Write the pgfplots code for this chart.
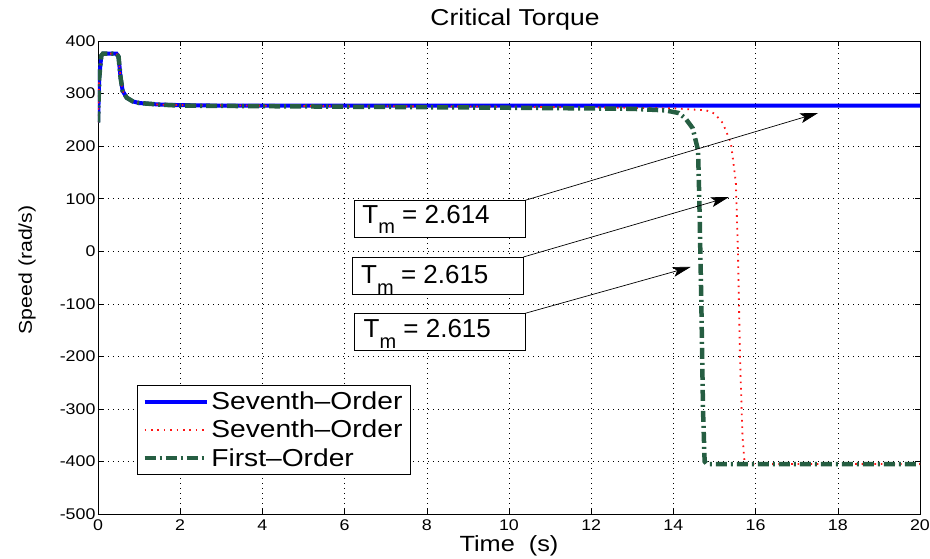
\documentclass[border=0pt]{standalone}
\usepackage{fontspec}
\setmainfont[FakeStretch=1.15]{Liberation Sans}
\newfontfamily\annfont{Liberation Sans}
\usepackage{pgfplots}
\pgfplotsset{compat=1.18}
\usetikzlibrary{arrows.meta}
\definecolor{mblue}{RGB}{0,0,255}
\definecolor{mred}{RGB}{255,20,20}
\definecolor{mgreen}{RGB}{38,94,66}
\newcommand{\tm}[1]{{\annfont\fontsize{26}{26}\selectfont T\raisebox{-10.5pt}{\fontsize{20}{20}\selectfont m} = #1}}
\begin{document}
\begin{tikzpicture}
\begin{axis}[
 at={(0,0)}, anchor=south west,
 scale only axis, width=822pt, height=473pt,
 xmin=0, xmax=20, ymin=-500, ymax=400,
 xtick={0,2,...,20}, ytick={-500,-400,...,400},
 /pgf/number format/assume math mode=true,
 ticklabel style={font=\fontsize{15.5}{15.5}\selectfont},
 yticklabel style={xshift=1pt},
 xticklabel style={yshift=-2pt},
 tick align=inside, major tick length=5pt,
 tick style={black, line width=0.5pt},
 grid=major,
 major grid style={black, line width=0.5pt, dash pattern=on 0.6pt off 4.4pt},
 axis line style={black, line width=0.6pt},
 title={Critical Torque},
 title style={font=\fontsize{23}{23}\selectfont, at={(axis description cs:0.5,1)}, anchor=base, yshift=10pt, xshift=6pt},
 xlabel={Time\ \ (s)},
 xlabel style={font=\fontsize{22}{22}\selectfont, at={(axis description cs:0.5,0)}, anchor=base, yshift=-38pt},
 ylabel={Speed (rad/s)},
 ylabel style={font=\fontsize{18.5}{18.5}\selectfont, at={(axis description cs:-0.0803,0.516)}, anchor=base},
 legend style={at={(axis description cs:0.0474,0.2727)}, anchor=north west,
   draw=black, line width=0.8pt, font=\fontsize{24.5}{24.5}\selectfont,
   inner xsep=5pt, inner ysep=4pt, row sep=4pt,
   nodes={inner sep=2.5pt}},
 legend cell align=left,
 legend image code/.code={\draw[#1] (0pt,0pt) -- (62pt,0pt);},
]
\addplot[mblue, line width=4pt] coordinates {
(0,245) (0.03,330) (0.08,372) (0.12,376) (0.45,376) (0.5,370) (0.55,330) (0.6,305) (0.7,292) (0.85,285) (1,282) (1.5,279) (2,278) (3,277) (20,277)};
\addlegendentry{Seventh--Order}
\addplot[mred, line width=1.8pt, dash pattern=on 1.6pt off 4.8pt] coordinates {
(0,245) (0.03,330) (0.08,372) (0.12,376) (0.45,376) (0.5,370) (0.55,330) (0.6,305) (0.7,292) (0.85,285) (1,282) (1.5,279) (2,278) (6,276) (10,275) (14,272) (14.8,268) (15,262) (15.2,244) (15.4,206) (15.52,130) (15.57,0) (15.62,-200) (15.68,-350) (15.73,-400) (15.78,-405) (20,-405)};
\addlegendentry{Seventh--Order}
\addplot[mgreen, line width=4.5pt, dash pattern=on 11pt off 4pt on 2pt off 4pt] coordinates {
(0,245) (0.03,330) (0.08,372) (0.12,376) (0.45,376) (0.5,370) (0.55,330) (0.6,305) (0.7,292) (0.85,285) (1,282) (1.5,279) (2,277) (6,275) (10,273) (13,271) (13.8,268) (14.13,263) (14.3,252) (14.47,234) (14.6,192) (14.63,100) (14.68,-100) (14.72,-300) (14.76,-400) (14.82,-405) (20,-405)};
\addlegendentry{First--Order}
% annotations
\draw[black, line width=0.7pt, -{Stealth[length=18pt,width=10pt,inset=4pt]}] (axis cs:10.40,97) -- (axis cs:17.52,263);
\draw[black, line width=0.7pt, -{Stealth[length=18pt,width=10pt,inset=4pt]}] (axis cs:10.35,-11) -- (axis cs:15.35,103);
\draw[black, line width=0.7pt, -{Stealth[length=18pt,width=10pt,inset=4pt]}] (axis cs:10.40,-118) -- (axis cs:14.42,-30);
\draw[black, line width=0.8pt, fill=white] (axis cs:6.236,97.4) rectangle (axis cs:10.40,27);
\draw[black, line width=0.8pt, fill=white] (axis cs:6.19,-11) rectangle (axis cs:10.35,-81.5);
\draw[black, line width=0.8pt, fill=white] (axis cs:6.236,-117.6) rectangle (axis cs:10.40,-188);
\node[anchor=base west, inner sep=0pt] at (axis cs:6.43,53.7) {\tm{2.614}};
\node[anchor=base west, inner sep=0pt] at (axis cs:6.40,-62) {\tm{2.615}};
\node[anchor=base west, inner sep=0pt] at (axis cs:6.46,-165) {\tm{2.615}};
\end{axis}
\pgfresetboundingbox
\useasboundingbox (-98pt,-45pt) rectangle (832pt,514pt);
\end{tikzpicture}
\end{document}
